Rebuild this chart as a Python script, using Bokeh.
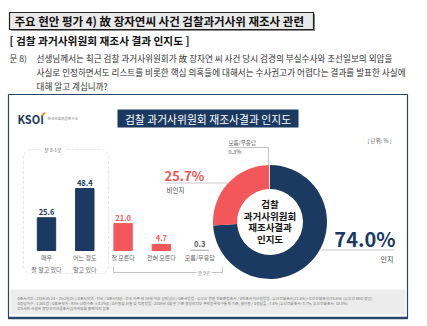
from bokeh.plotting import figure
from bokeh.models import Range1d, BoxAnnotation
from bokeh.core.properties import value
from bokeh.embed import file_html
from bokeh.resources import INLINE
import numpy as np

W, H = 427, 326

# ---------------- data ----------------
bar_categories = ["매우\n잘 알고 있다", "어느 정도\n알고 있다", "잘 모른다", "전혀 모른다", "모름/무응답"]
bar_values = [25.6, 48.4, 21.0, 4.7, 0.3]
donut_labels = ["인지", "비인지", "모름/무응답"]
donut_values = [74.0, 25.7, 0.3]

title_text = "주요 현안 평가 4) 故 장자연씨 사건 검찰과거사위 재조사 관련"
subtitle_text = "[ 검찰 과거사위원회 재조사 결과 인지도 ]"
question_lines = [
    "선생님께서는 최근 검찰 과거사위원회가 故 장자연 씨 사건 당시 검경의 부실수사와 조선일보의 외압을",
    "사실로 인정하면서도 리스트를 비롯한 핵심 의혹들에 대해서는 수사권고가 어렵다는 결과를 발표한 사실에",
    "대해 알고 계십니까?",
]
chart_title = "검찰 과거사위원회 재조사결과 인지도"
donut_center_lines = ["검찰", "과거사위원회", "재조사결과", "인지도"]
footer_lines = [
    "o조사기간 : 2019.05.24 ~ 25(2일간) / o조사지역 : 전국 / o조사대상 : 전국 거주 만 19세 이상 성인남녀 / o조사방법 : 유무선 병행 전화면접조사 / o피조사자선정방법 : 유선전화조사(21.4%)+무선전화조사(78.6%) (유무선 RDD 생성)",
    "o응답자수 : 1,001명 / o표본오차 : 95% 신뢰수준 ±3.1%p / o가중값 산출 및 적용방법 : 2019년 4월 말 기준 행정안전부 주민등록인구통계 기준, 셀가중 / o응답률 : 7.4% (유선전화조사: 3.7%, 무선전화조사: 10.0%)",
    "o자세한 사항은 중앙선거여론조사심의위원회 홈페이지 참조",
]

FONT = value("Noto Sans CJK KR")
NAVY = "#1b3a61"
RED = "#f4575a"
GRAY = "#bdbdbd"


def Y(py):
    return H - py


p = figure(width=W, height=H, x_range=Range1d(0, W), y_range=Range1d(0, H),
           x_axis_type=None, y_axis_type=None, toolbar_location=None,
           output_backend="svg", min_border=0)
p.grid.visible = False
p.outline_line_color = None
p.background_fill_color = "white"
p.border_fill_color = "white"


def txt(x, y, s, size, color="#333", bold=False, align="left", baseline="middle"):
    p.text(x=[x], y=[Y(y)], text=[s], text_font=FONT, text_font_size=f"{size}px",
           text_color=color, text_font_style="bold" if bold else "normal",
           text_align=align, text_baseline=baseline)


def box(l, r, t, b, fill=None, line=None, lw=1.0):
    p.quad(left=[l], right=[r], top=[Y(t)], bottom=[Y(b)], fill_color=fill,
           line_color=line, line_width=lw)


# ---------------- header ----------------
box(10.5, 314.5, 13.5, 30.5, fill="#888888", line=None)
box(9, 313, 12, 29, fill="#e9e9e9", line="#222222", lw=1.2)
txt(14, 20.5, title_text, 11.5, "#111", bold=True)
txt(9, 39.5, subtitle_text, 10.7, "#111", bold=True)
txt(9, 57, "문 8)", 8.6, "#333")
for i, line in enumerate(question_lines):
    txt(36, 57 + 14 * i, line, 8.6, "#333")

# ---------------- frame ----------------
box(8, 407, 94, 318, fill=None, line="#2a4568", lw=1.2)
p.line(x=[8, 407], y=[Y(317.5), Y(317.5)], line_color="#2a4568", line_width=2.5)

# logo
txt(17, 118, "KSOI", 11, NAVY, bold=True)
p.line(x=[41.5, 44.5], y=[Y(115), Y(112)], line_color="#f29a1f", line_width=2)
txt(47, 118, "한국사회여론연구소", 3.7, "#777")

# banner
box(117, 298, 109, 127, fill=NAVY, line=None)
txt(207.5, 118, chart_title, 10.8, "white", align="center")
txt(367, 140, "[ 단위: % ]", 5.5, "#555")

# footer band
box(10, 405, 289, 314, fill="#ececec", line=None)
for i, line in enumerate(footer_lines):
    txt(17, 297.5 + 5.2 * i, line, 3.75, "#777")

# ---------------- bar chart ----------------
BASE_PY = 250      # pixel row of the bars' baseline
PPU = 1.28         # pixels per percentage point
X0, DX = 46, 38.3  # first bar centre and spacing in pixels
p.extra_x_ranges = {"bx": Range1d(-X0 / DX, (W - X0) / DX)}
p.extra_y_ranges = {"by": Range1d(-(H - BASE_PY) / PPU, BASE_PY / PPU)}

idx = list(range(len(bar_values)))
bar_colors = [NAVY, NAVY, RED, RED, GRAY]
lab_colors = [NAVY, NAVY, RED, RED, "#555"]

# dashed rounded box around "문 8-1로" group
dbox = BoxAnnotation(left=23, right=108, top=Y(149), bottom=Y(273), fill_color=None,
                     line_color="#9a9a9a", line_dash="3 2", line_width=0.8,
                     border_radius=8, level="underlay")
p.add_layout(dbox)
box(39, 66, 146, 152, fill="white", line=None)
txt(52.5, 149, "문 8-1로", 4.8, "#666", align="center")

p.vbar(x=idx, top=bar_values, bottom=0, width=0.48, color=bar_colors,
       x_range_name="bx", y_range_name="by")
p.text(x=idx, y=bar_values, text=[f"{v:.1f}" for v in bar_values],
       text_color=lab_colors, text_font=FONT, text_font_size="7.5px",
       text_font_style="bold", text_align="center", text_baseline="bottom",
       y_offset=-3, x_range_name="bx", y_range_name="by")
p.text(x=idx, y=[0] * len(idx), text=bar_categories, text_color="#666",
       text_font=FONT, text_font_size="6px", text_align="center",
       text_baseline="top", text_line_height=1.3, y_offset=2.5,
       x_range_name="bx", y_range_name="by")

# "문 9로" bracket
p.line(x=[113, 113, 196], y=[Y(266), Y(272), Y(272)], line_color="#aaa", line_width=0.7)
p.line(x=[211, 222, 222], y=[Y(272), Y(272), Y(267)], line_color="#aaa", line_width=0.7)
txt(203.5, 272, "문 9로", 4.5, "#777", align="center")

# ---------------- donut ----------------
CX, CY = 269.5, 221.5
vals = np.array(donut_values, dtype=float)
frac = np.concatenate([[0.0], np.cumsum(vals)]) / vals.sum()
start = np.pi / 2 - frac[:-1] * 2 * np.pi
end = np.pi / 2 - frac[1:] * 2 * np.pi
p.annular_wedge(x=[CX] * 3, y=[Y(CY)] * 3, inner_radius=33, outer_radius=57,
                inner_radius_units="screen", outer_radius_units="screen",
                start_angle=start, end_angle=end, direction="clock",
                fill_color=[NAVY, RED, "#e4e4e4"], line_color=None)
for i, line in enumerate(donut_center_lines):
    txt(CX, 203.5 + 11.7 * i, line, 9.5, "#111", bold=True, align="center")

# donut callouts
txt(228, 142.5, donut_labels[2], 5.5, "#555")
txt(228, 151.5, f"{donut_values[2]:.1f}%", 5.5, "#555")
p.line(x=[228, 268, 268], y=[Y(147), Y(147), Y(165)], line_color="#aaa", line_width=0.7)

txt(164, 174.5, f"{donut_values[1]:.1f}%", 13, "#ef5350", bold=True)
p.line(x=[165, 228], y=[Y(182.5), Y(182.5)], line_color="#bbb", line_width=0.8)
txt(166, 189.5, donut_labels[1], 6.5, "#444")

txt(395, 238, f"{donut_values[0]:.1f}%", 20, NAVY, bold=True, align="right")
p.line(x=[319, 394], y=[Y(249.5), Y(249.5)], line_color="#bbb", line_width=0.8)
txt(393, 258, donut_labels[0], 7, "#444", align="right")

open("out.html", "w").write(file_html(p, INLINE))
